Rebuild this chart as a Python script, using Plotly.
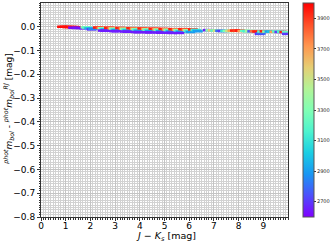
import plotly.graph_objects as go

# J - Ks colour [mag]
jk = [0.85, 0.95, 1.05, 1.15, 1.25, 1.35, 1.45, 1.55, 1.65,
      1.30, 1.45, 1.60, 1.75,
      1.80, 1.85, 1.95, 2.05, 2.10,
      2.30, 2.40, 2.45, 2.50, 2.55, 2.60, 2.50, 2.60,
      2.75, 2.85, 2.90, 2.95, 3.00, 3.05, 2.95, 3.05,
      3.20, 3.30, 3.35, 3.40, 3.45, 3.50, 3.40, 3.50,
      3.65, 3.75, 3.80, 3.85, 3.90, 3.95, 3.85, 3.95,
      4.10, 4.20, 4.25, 4.30, 4.35, 4.40, 4.30, 4.40,
      4.55, 4.65, 4.70, 4.75, 4.80, 4.85, 4.75, 4.85,
      4.95, 5.05, 5.10, 5.15, 5.20, 5.25, 5.20, 5.30,
      5.35, 5.45, 5.50, 5.55, 5.60, 5.65, 5.60,
      5.75, 5.85, 5.90, 5.95, 6.00, 6.05,
      6.15, 6.25, 6.30, 6.35,
      6.75, 6.85, 6.95, 7.05, 7.15, 7.25, 7.35, 7.45, 7.55, 7.65,
      7.75, 7.85, 7.95, 8.05, 8.15, 8.25, 8.35, 8.45, 8.55, 8.65,
      8.75, 8.85, 8.90, 8.95, 9.05, 9.15, 9.25, 9.35, 9.45, 9.55,
      9.65, 9.75, 9.85, 9.95, 9.95]

# phot m_bol - phot m_bol^RJ [mag]
dm = [0.000, 0.000, -0.001, -0.001, -0.001, -0.001, -0.002, -0.002, -0.002,
      -0.004, -0.005, -0.005, -0.006,
      -0.002, -0.003, -0.007, -0.011, -0.009,
      -0.003, -0.004, -0.005, -0.006, -0.009, -0.012, -0.016, -0.017,
      -0.004, -0.005, -0.006, -0.008, -0.011, -0.014, -0.018, -0.019,
      -0.005, -0.006, -0.007, -0.009, -0.012, -0.016, -0.020, -0.021,
      -0.006, -0.007, -0.008, -0.010, -0.013, -0.017, -0.022, -0.023,
      -0.007, -0.008, -0.009, -0.011, -0.014, -0.018, -0.023, -0.024,
      -0.008, -0.009, -0.010, -0.012, -0.015, -0.019, -0.024, -0.025,
      -0.009, -0.010, -0.011, -0.013, -0.016, -0.020, -0.025, -0.026,
      -0.010, -0.011, -0.012, -0.014, -0.017, -0.021, -0.026,
      -0.010, -0.011, -0.013, -0.015, -0.018, -0.022,
      -0.011, -0.013, -0.016, -0.019,
      -0.014, -0.015, -0.015, -0.016, -0.017, -0.017, -0.018, -0.018, -0.017, -0.018,
      -0.016, -0.016, -0.017, -0.016, -0.018, -0.017, -0.019, -0.018, -0.019, -0.019,
      -0.020, -0.030, -0.028, -0.020, -0.019, -0.020, -0.020, -0.021, -0.021, -0.020,
      -0.022, -0.021, -0.022, -0.023, -0.030]

# effective temperature [K]
teff = [3980, 3980, 3970, 3980, 3960, 3980, 3950, 3970, 3950,
        2620, 2640, 2630, 2650,
        3400, 3200, 2950, 2680, 2850,
        3950, 3900, 3750, 3400, 3150, 2900, 2650, 2650,
        3950, 3900, 3700, 3400, 3150, 2900, 2650, 2650,
        3950, 3900, 3700, 3400, 3150, 2900, 2650, 2650,
        3950, 3900, 3700, 3400, 3150, 2900, 2650, 2650,
        3950, 3900, 3700, 3400, 3150, 2900, 2650, 2650,
        3950, 3900, 3700, 3400, 3150, 2900, 2650, 2650,
        3950, 3900, 3700, 3400, 3150, 2900, 2650, 2650,
        3950, 3900, 3700, 3400, 3150, 2900, 2650,
        3950, 3900, 3700, 3400, 3150, 2900,
        3950, 3200, 3000, 2900,
        2650, 3300, 3600, 3200, 3500, 2800, 2700, 3100, 3300, 3500,
        3700, 3950, 3900, 3950, 3700, 3250, 3150, 3400, 2750, 3800,
        3950, 2650, 2800, 3200, 3950, 3300, 2900, 3000, 3700, 3200,
        2700, 3150, 3950, 3250, 2700]

x_ticks = [0, 1, 2, 3, 4, 5, 6, 7, 8, 9]
y_ticks = [0.0, -0.1, -0.2, -0.3, -0.4, -0.5, -0.6, -0.7, -0.8]
cbar_ticks = [2700, 2900, 3100, 3300, 3500, 3700, 3900]

rainbow = [[0.0, '#8000ff'], [0.1, '#4d4ffc'], [0.2, '#1996f3'], [0.3, '#1acee3'],
           [0.4, '#4df3ce'], [0.5, '#80ffb4'], [0.6, '#b3f396'], [0.7, '#e6ce74'],
           [0.8, '#ff964f'], [0.9, '#ff4f28'], [1.0, '#ff0000']]

font = 'DejaVu Sans'

fig = go.Figure(go.Scatter(
    x=jk, y=dm, mode='markers',
    marker=dict(symbol='line-ew-open', size=7, line=dict(width=2.5),
                color=teff, colorscale=rainbow, cmin=2600, cmax=4000,
                colorbar=dict(thickness=11, thicknessmode='pixels', len=1, lenmode='fraction',
                              x=1.061, xanchor='left', y=0.5, yanchor='middle',
                              xpad=0, ypad=0, outlinecolor='#555555', outlinewidth=1,
                              tickvals=cbar_ticks, ticks='outside', ticklen=2,
                              tickcolor='#333333',
                              tickfont=dict(family=font, size=5, color='#222222'))),
    showlegend=False))

grid_major = '#c4c4c4'
grid_minor = '#d2d2d2'

fig.update_layout(
    width=333, height=243,
    margin=dict(l=41, r=45, t=3, b=26, autoexpand=False),
    paper_bgcolor='white', plot_bgcolor='white',
    font=dict(family=font, color='black'),
    xaxis=dict(range=[0, 10], tickvals=x_ticks, ticks='outside', ticklen=3,
               tickcolor='#333333', tickfont=dict(size=9), ticklabelstandoff=-3,
               showgrid=True, gridcolor=grid_major, gridwidth=0.8, zeroline=False,
               showline=True, mirror=True, linecolor='#333333', linewidth=1,
               minor=dict(tick0=0, dtick=0.1, showgrid=True, gridcolor=grid_minor,
                          gridwidth=0.8, ticks='outside', ticklen=1.5, tickcolor='#333333')),
    yaxis=dict(range=[-0.8, 0.1], tickvals=y_ticks, tickformat='.1f', ticks='outside',
               ticklen=3, tickcolor='#333333', tickfont=dict(size=9),
               showgrid=True, gridcolor=grid_major, gridwidth=0.8, zeroline=False,
               showline=True, mirror=True, linecolor='#333333', linewidth=1,
               minor=dict(tick0=0, dtick=0.01, showgrid=True, gridcolor=grid_minor,
                          gridwidth=0.8, ticks='outside', ticklen=1.5, tickcolor='#333333')),
    annotations=[
        dict(text='<i>J</i> − <i>K</i><sub><i>s</i></sub> [mag]',
             xref='paper', yref='paper', x=0.506, y=-0.092,
             xanchor='center', yanchor='middle', showarrow=False,
             font=dict(size=9.5)),
        dict(text='<sup><i>phot</i></sup><i>m</i><sub><i>bol</i></sub> - '
                  '<sup><i>phot</i></sup><i>m</i><sub><i>bol</i></sub>'
                  '<sup><i>RJ</i></sup> [mag]',
             xref='paper', yref='paper', x=-0.13, y=0.505, textangle=-90,
             xanchor='center', yanchor='middle', showarrow=False,
             font=dict(size=9)),
    ],
)

fig.write_html('out.html', config={'displayModeBar': False},
               post_script="document.body.style.margin='0';document.body.style.overflow='hidden';")
